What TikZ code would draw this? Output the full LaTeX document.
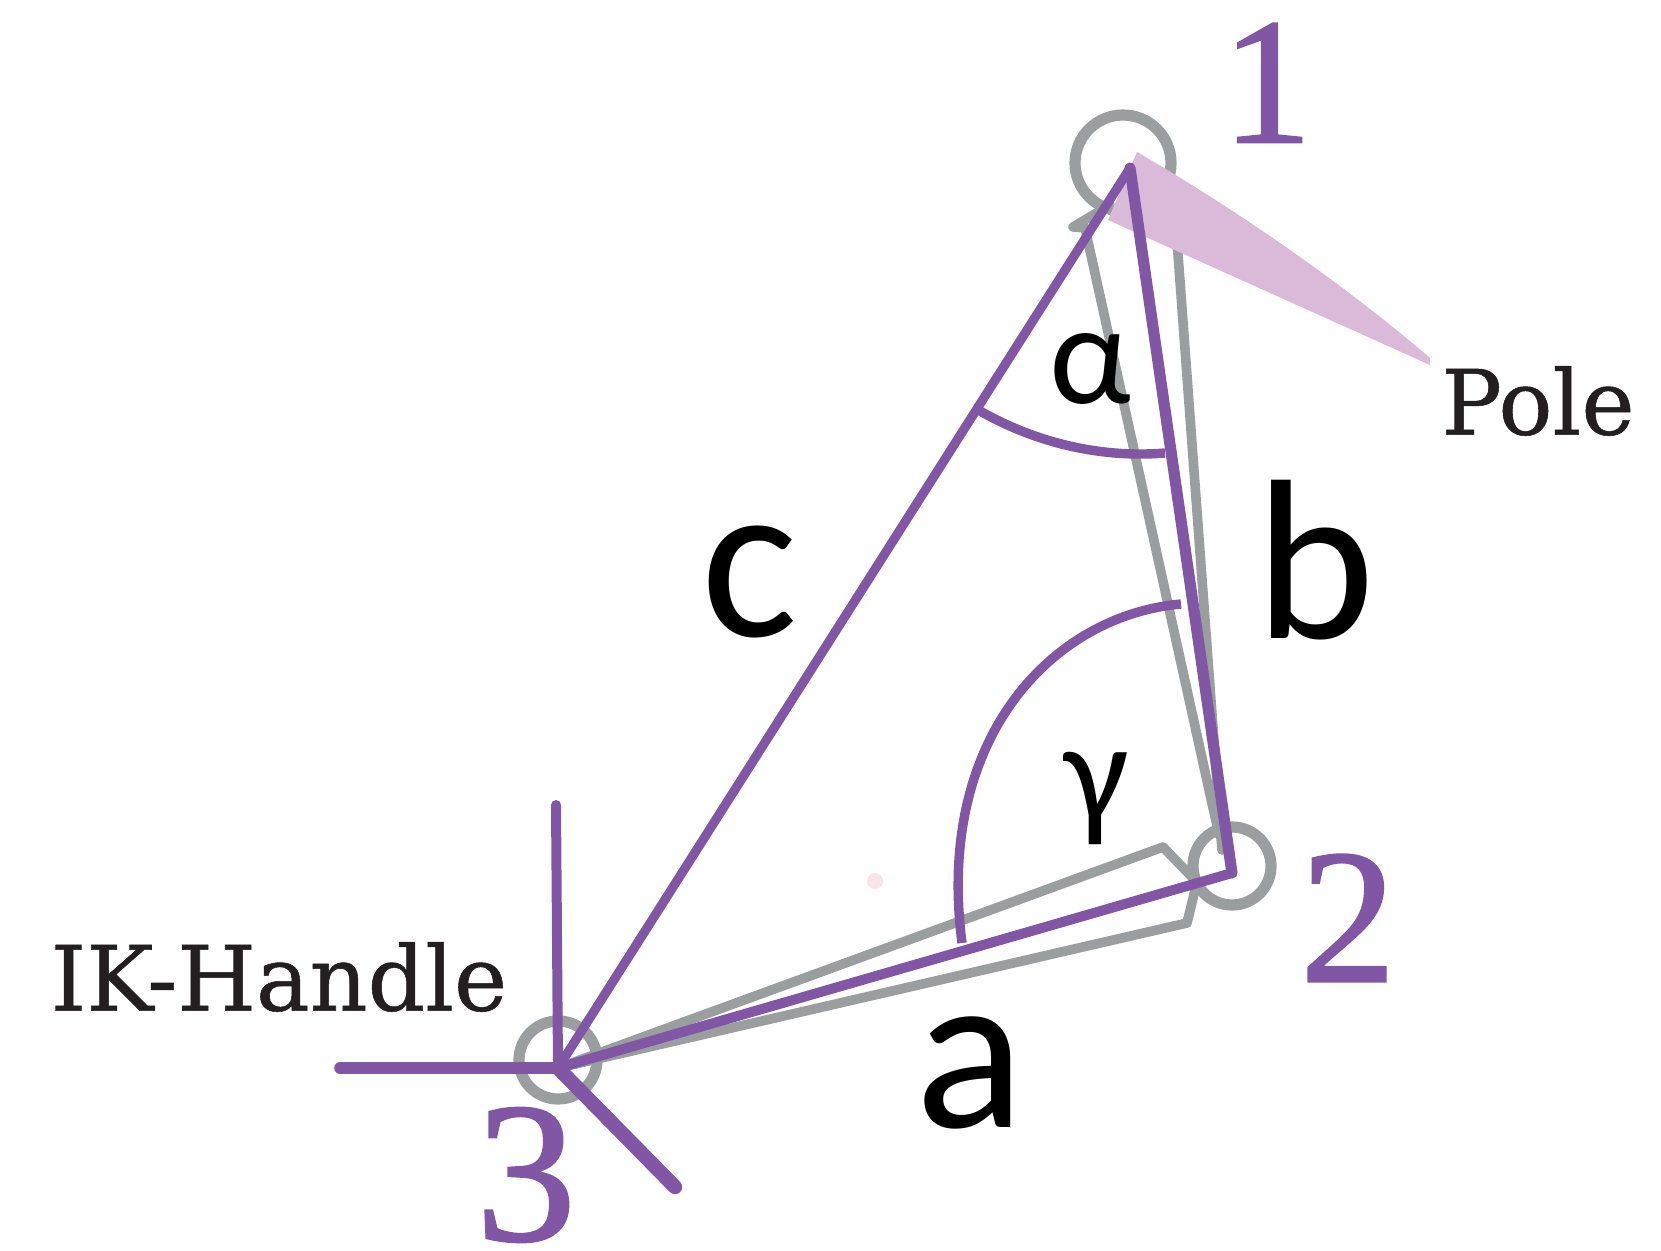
\documentclass[tikz,border=0pt]{standalone}
\usepackage{fontspec}
\setmainfont{Liberation Serif}
\newfontfamily\numfont[FakeBold=1.2]{Liberation Serif}
\newfontfamily\labelfont{Carlito}
\newfontfamily\slabfont[FakeBold=0.6]{DejaVu Serif}
\definecolor{ikpurple}{HTML}{8157A5}
\definecolor{ikgrey}{HTML}{9A9E9E}
\definecolor{ikpole}{HTML}{DAB9D9}
\definecolor{ikdark}{HTML}{231F20}
\definecolor{ikdot}{HTML}{F9E4EA}
\tikzset{
  bone/.style={draw=ikgrey,line width=4.8pt,line join=round,line cap=round},
  chain/.style={draw=ikpurple,line width=5pt,line join=round,line cap=round},
  handlebar/.style={draw=ikpurple,line width=5.8pt,line cap=round},
  anglearc/.style={draw=ikpurple,line width=4.7pt},
  joint/.style={draw=ikgrey,line width=5.6pt,circle,inner sep=0pt,fill=none},
  numlabel/.style={text=ikpurple,inner sep=0pt,font=\numfont\fontsize{90}{90}\selectfont},
  sidelabel/.style={text=black,inner sep=0pt,font=\labelfont\fontsize{114}{114}\selectfont},
  greeklabel/.style={text=black,inner sep=0pt,font=\labelfont\fontsize{72}{72}\selectfont},
  namelabel/.style={text=ikdark,inner sep=0pt,font=\slabfont\fontsize{45}{45}\selectfont}
}
\begin{document}
\begin{tikzpicture}[x=0.5pt,y=-0.5pt]
\useasboundingbox (0,0) rectangle (1661,1251);
% key points
\coordinate (p1) at (1130,168);
\coordinate (p2) at (1232,873);
\coordinate (p3) at (558,1068);
\coordinate (hUp) at (556,805);
\coordinate (hLeft) at (340,1068);
\coordinate (hDown) at (675,1187);
% joints
\node[joint,minimum size=48pt] (j1) at (1123,163) {};
\node[joint,minimum size=39pt] (j2) at (1232,866) {};
\node[joint,minimum size=39pt] (j3) at (558,1060) {};
% grey bones
\coordinate (b1a) at (1163,847);
\coordinate (b1b) at (1192,877);
\coordinate (b2a) at (1187,923);
\coordinate (b2b) at (1195,890);
\coordinate (b3a) at (1110,205);
\coordinate (b3b) at (1073,227);
\coordinate (b3c) at (1085,228);
\coordinate (b3d) at (1219,835);
\coordinate (b4a) at (1174,200);
\coordinate (b4b) at (1222,850);
\draw[bone] (p3) -- (b1a) -- (b1b);
\draw[bone] (p3) -- (b2a) -- (b2b);
\draw[bone] (b3a) -- (b3b) -- (b3c) -- (b3d);
\draw[bone] (b4a) -- (b4b);
% pole
\fill[ikpole] (1137,152) .. controls (1240,212) and (1345,285) .. (1430,358) -- (1430,365) -- (1108,220) -- cycle;
% faint dot
\fill[ikdot] (875,881) circle[radius=8];
% chain
\draw[chain,line width=4.6pt] (p3) -- (p1);
\draw[chain,line width=5.6pt] (p1) -- (p2);
\draw[chain] (p2) -- (p3);
% handle
\draw[handlebar,line width=5pt] (p3) -- (hUp);
\draw[handlebar] (p3) -- (hLeft);
\draw[handlebar,line width=7.2pt] (p3) -- (hDown);
% angles
\coordinate (aS) at (980,411);
\coordinate (aE) at (1165,453);
\coordinate (gS) at (1181,604);
\coordinate (gE) at (962,943);
\draw[anglearc] (aS) .. controls (1040,445) and (1105,458) .. (aE);
\draw[anglearc] (gS) .. controls (1055,615) and (935,735) .. (gE);
% labels
\node[numlabel] (n1) at (1267,83) {1};
\node[numlabel,font=\numfont\fontsize{96}{96}\selectfont] (n2) at (1348,918) {2};
\node[numlabel,font=\numfont\fontsize{100}{100}\selectfont] (n3) at (526,1175) {3};
\node[sidelabel] (la) at (970,1073) {a};
\node[sidelabel] (lb) at (1315,560) {b};
\node[sidelabel] (lc) at (750,582) {c};
\node[greeklabel] (lal) at (1090,369) {α};
\node[greeklabel] (lga) at (1097,798) {γ};
\node[namelabel] (pole) at (1538,401) {Pole};
\node[namelabel] (ik) at (279,977) {IK-Handle};
\end{tikzpicture}
\end{document}
